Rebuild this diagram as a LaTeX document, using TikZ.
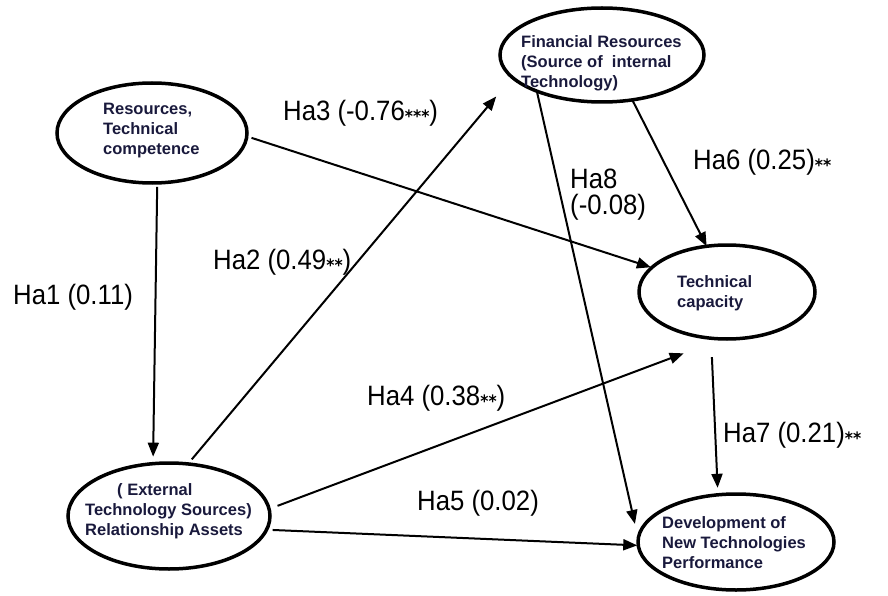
\documentclass[tikz,border=0pt]{standalone}
\usepackage{fontspec}
\usepackage{graphicx}
\setmainfont{Liberation Sans}
\newfontfamily\starfont{DejaVu Sans}
\usetikzlibrary{arrows.meta,shapes.geometric}
\definecolor{navy}{RGB}{25,25,60}
\newcommand{\hlab}[1]{\scalebox{0.92}[1]{#1}}
\newcommand{\sstars}[1]{\raisebox{-2pt}{\starfont\bfseries\fontsize{17}{17}\selectfont #1}}
\tikzset{
  ell/.style={ellipse, draw=black, line width=3.5pt, inner sep=0pt, outer sep=0pt},
  etxt/.style={anchor=west, align=left, inner sep=0pt, text=navy,
    font=\bfseries\fontsize{16.5}{20}\selectfont},
  hlbl/.style={anchor=west, align=left, inner sep=0pt, text=black,
    font=\fontsize{28}{26}\selectfont},
  arr/.style={draw=black, line width=2pt, -{Triangle[length=14pt,width=11pt]}}
}
\begin{document}
\begin{tikzpicture}[x=1pt,y=-1pt]
\useasboundingbox (0,0) rectangle (888,596);
% ellipses
\node[ell, minimum width=190pt, minimum height=100pt] (res) at (152,133) {};
\node[ell, minimum width=204pt, minimum height=94pt]  (fin) at (602,55) {};
\node[ell, minimum width=176pt, minimum height=94pt]  (tec) at (727,292) {};
\node[ell, minimum width=202pt, minimum height=106pt] (rel) at (169,516) {};
\node[ell, minimum width=196pt, minimum height=96pt]  (dev) at (736,542) {};
% ellipse texts
\node[etxt] (restxt) at (103,131) {Resources,\\Technical\\competence};
\node[etxt] (fintxt) at (521,63) {Financial Resources\\(Source of~ internal\\Technology)};
\node[etxt] (tectxt) at (677,293) {Technical\\capacity};
\node[etxt] (reltxt) at (85,511) {\hspace*{32pt}( External\\Technology Sources)\\Relationship Assets};
\node[etxt] (devtxt) at (662,543) {Development of\\New Technologies\\Performance};
% connectors
\draw[arr, shorten <=4pt, shorten >=7pt] (res.-84.7) -- (rel.107);
\draw[arr, shorten <=6pt, shorten >=25pt] (rel.70.1) -- (fin.-166.3);
\draw[arr, shorten <=5pt, shorten >=1pt] (res.-2.9) -- (tec.162.7);
\draw[arr] (fin.-56.3) -- (tec.114.4);
\draw[arr, shorten >=15pt] (fin.-151.8) -- (dev.178.8);
\draw[arr, shorten <=9pt, shorten >=41pt] (rel.4.6) -- (tec.-96);
\draw[arr, shorten <=6pt, shorten >=1pt] (rel.-8.2) -- (dev.182.3);
\draw[arr, shorten <=19pt, shorten >=7pt] (tec.-109.3) -- (dev.111);
% labels
\node[hlbl] (ha1) at (13,297) {\hlab{Ha1 (0.11)}};
\node[hlbl] (ha2) at (213,262) {\hlab{Ha2 (0.49\sstars{**})}};
\node[hlbl] (ha3) at (283,113) {\hlab{Ha3 (-0.76\sstars{***})}};
\node[hlbl] (ha6) at (693,162) {\hlab{Ha6 (0.25)\sstars{**}}};
\node[hlbl] (ha8) at (570,195) {\hlab{Ha8}\\\hlab{(-0.08)}};
\node[hlbl] (ha4) at (367,398) {\hlab{Ha4 (0.38\sstars{**})}};
\node[hlbl] (ha7) at (723,435) {\hlab{Ha7 (0.21)\sstars{**}}};
\node[hlbl] (ha5) at (417,503) {\hlab{Ha5 (0.02)}};
\end{tikzpicture}
\end{document}
